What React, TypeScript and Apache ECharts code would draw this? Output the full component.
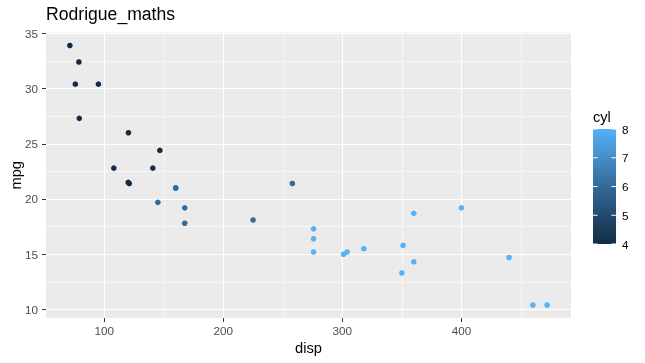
import React, { useEffect, useRef } from "react";
import * as echarts from "echarts";

const disp = [160, 160, 108, 258, 360, 225, 360, 146.7, 140.8, 167.6, 167.6, 275.8, 275.8, 275.8, 472, 460, 440, 78.7, 75.7, 71.1, 120.1, 318, 304, 350, 400, 79, 120.3, 95.1, 351, 145, 301, 121];
const mpg = [21, 21, 22.8, 21.4, 18.7, 18.1, 14.3, 24.4, 22.8, 19.2, 17.8, 16.4, 17.3, 15.2, 10.4, 10.4, 14.7, 32.4, 30.4, 33.9, 21.5, 15.5, 15.2, 13.3, 19.2, 27.3, 26, 30.4, 15.8, 19.7, 15, 21.4];
const cyl = [6, 6, 4, 6, 8, 6, 8, 4, 4, 6, 6, 8, 8, 8, 8, 8, 8, 4, 4, 4, 4, 8, 8, 8, 8, 4, 4, 4, 8, 6, 8, 4];
const xTicks = [100, 200, 300, 400];
const yTicks = [10, 15, 20, 25, 30, 35];
const legendTicks = [4, 5, 6, 7, 8];
const gradientColors = ["#132B43", "#336A98", "#56B1F7"];

const FONT = "'Liberation Sans', Arial, sans-serif";

function padded(v: number[]) {
  const lo = Math.min(...v);
  const hi = Math.max(...v);
  const e = (hi - lo) * 0.05;
  return [lo - e, hi + e];
}

export default function App() {
  const ref = useRef<HTMLDivElement>(null);
  useEffect(() => {
    if (!ref.current) return;
    const chart = echarts.init(ref.current, null, { renderer: "svg" });
    const [xmin, xmax] = padded(disp);
    const [ymin, ymax] = padded(mpg);
    const cmin = Math.min(...legendTicks);
    const cmax = Math.max(...legendTicks);

    const barX = 593, barY = 129, barW = 23, barH = 115;
    const legendEls: any[] = [
      {
        type: "rect",
        shape: { x: barX, y: barY, width: barW, height: barH },
        style: {
          fill: {
            type: "linear", x: 0, y: 1, x2: 0, y2: 0,
            colorStops: gradientColors.map((c, i) => ({ offset: i / (gradientColors.length - 1), color: c })),
          },
        },
      },
      {
        type: "text",
        style: { text: "cyl", x: barX, y: barY - 5, textVerticalAlign: "bottom", font: `14.5px ${FONT}`, fill: "#000" },
      },
    ];
    legendTicks.forEach((v) => {
      const y = barY + ((cmax - v) / (cmax - cmin)) * barH;
      legendEls.push(
        { type: "line", shape: { x1: barX, y1: y, x2: barX + 4.6, y2: y }, style: { stroke: "#fff", lineWidth: 1 } },
        { type: "line", shape: { x1: barX + barW - 4.6, y1: y, x2: barX + barW, y2: y }, style: { stroke: "#fff", lineWidth: 1 } },
        { type: "text", style: { text: String(v), x: barX + barW + 6, y, textVerticalAlign: "middle", font: `11.7px ${FONT}`, fill: "#000" } }
      );
    });

    chart.setOption({
      animation: false,
      title: {
        text: "Rodrigue_maths",
        left: 46,
        top: 5,
        padding: 0,
        textStyle: { fontFamily: FONT, fontSize: 17.6, fontWeight: "normal", color: "#000" },
      },
      grid: {
        left: 46, right: 74, top: 32.5, bottom: 45,
        containLabel: false, outerBoundsMode: "none",
        show: true, backgroundColor: "#EBEBEB", borderWidth: 0,
      },
      xAxis: {
        type: "value",
        min: xmin,
        max: xmax,
        splitNumber: 5,
        name: "disp",
        nameLocation: "middle",
        nameGap: 22,
        nameMoveOverlap: false,
        nameTextStyle: { fontFamily: FONT, fontSize: 14.7, color: "#000" },
        axisLine: { show: false },
        axisTick: { show: true, length: 4, lineStyle: { color: "#333" }, customValues: xTicks },
        axisLabel: { customValues: xTicks, margin: 6, fontFamily: FONT, fontSize: 11.7, color: "#4D4D4D" },
        splitLine: { show: true, lineStyle: { color: "#fff", width: 1.1 } },
        minorTick: { show: false, splitNumber: 2 },
        minorSplitLine: { show: true, lineStyle: { color: "#fff", width: 0.55 } },
      },
      yAxis: {
        type: "value",
        min: ymin,
        max: ymax,
        splitNumber: 5,
        name: "mpg",
        nameLocation: "middle",
        nameRotate: 90,
        nameGap: 23,
        nameMoveOverlap: false,
        nameTextStyle: { fontFamily: FONT, fontSize: 14.7, color: "#000" },
        axisLine: { show: false },
        axisTick: { show: true, length: 4, lineStyle: { color: "#333" }, customValues: yTicks },
        axisLabel: { customValues: yTicks, margin: 8, fontFamily: FONT, fontSize: 11.7, color: "#4D4D4D" },
        splitLine: { show: true, lineStyle: { color: "#fff", width: 1.1 } },
        minorTick: { show: false, splitNumber: 2 },
        minorSplitLine: { show: true, lineStyle: { color: "#fff", width: 0.55 } },
      },
      visualMap: {
        show: false,
        type: "continuous",
        dimension: 2,
        min: cmin,
        max: cmax,
        inRange: { color: gradientColors },
      },
      series: [
        {
          type: "scatter",
          symbolSize: 5.6,
          data: disp.map((d, i) => [d, mpg[i], cyl[i]]),
          itemStyle: { opacity: 1 },
        },
      ],
      graphic: legendEls,
    });
    return () => chart.dispose();
  }, []);
  return <div ref={ref} style={{ position: "fixed", left: 0, top: 0, width: 645, height: 363 }} />;
}
